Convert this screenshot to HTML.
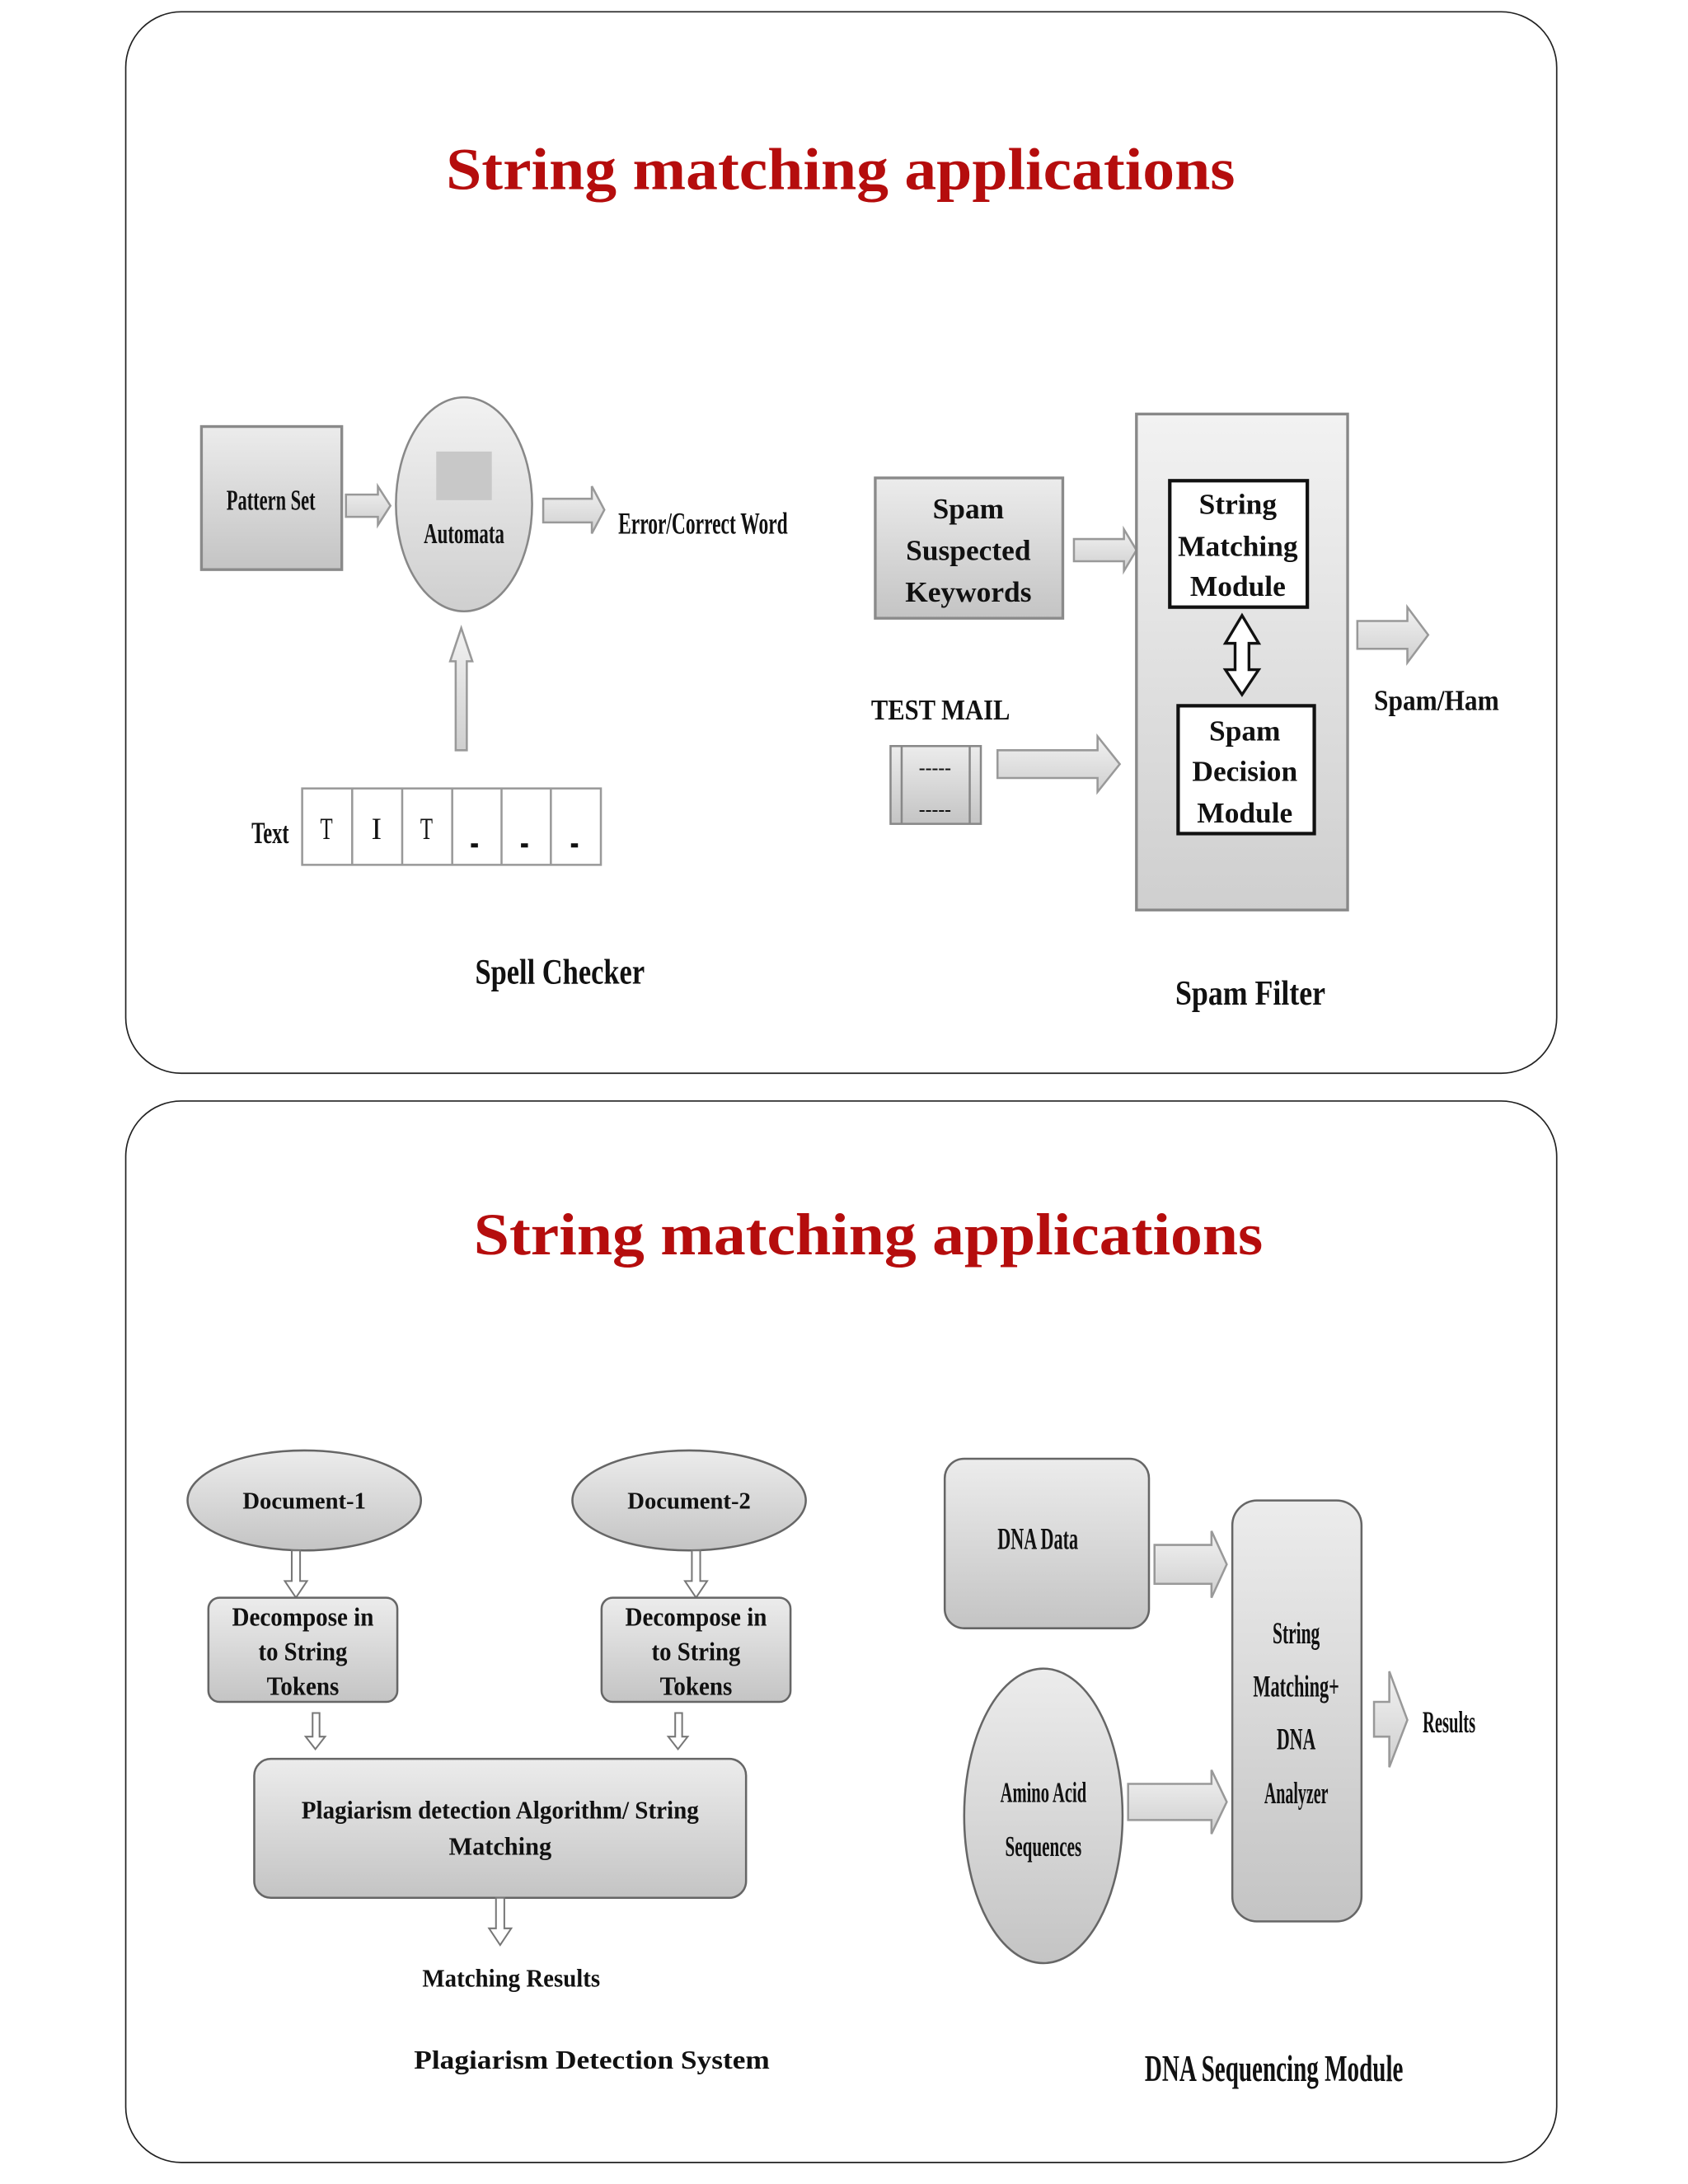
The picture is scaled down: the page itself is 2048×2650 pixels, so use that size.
<!DOCTYPE html>
<html><head><meta charset="utf-8"><style>
html,body{margin:0;padding:0;background:#fff;}
svg{display:block;}
text{font-family:"Liberation Serif",serif;fill:#111;}
.b{font-weight:bold;}
</style></head><body>
<svg width="2048" height="2650" viewBox="0 0 1215 1572" preserveAspectRatio="none" xmlns="http://www.w3.org/2000/svg">
<defs>
<linearGradient id="g" x1="0" y1="0" x2="0" y2="1"><stop offset="0" stop-color="#ececec"/><stop offset="1" stop-color="#c4c4c4"/></linearGradient>
<linearGradient id="gh" x1="0" y1="0" x2="0" y2="1"><stop offset="0" stop-color="#f2f2f2"/><stop offset="1" stop-color="#cfcfcf"/></linearGradient>
</defs>
<rect x="90.5" y="8.5" width="1030" height="764" rx="40" fill="#fff" stroke="#222" stroke-width="1"/>
<rect x="90.5" y="792.5" width="1030" height="764" rx="40" fill="#fff" stroke="#222" stroke-width="1"/>

<text x="605" y="136" font-size="43" font-weight="bold" text-anchor="middle" style="fill:#b50d0d" textLength="568" lengthAdjust="spacingAndGlyphs">String matching applications</text>
<text x="625" y="903" font-size="43" font-weight="bold" text-anchor="middle" style="fill:#b50d0d" textLength="568" lengthAdjust="spacingAndGlyphs">String matching applications</text>

<!-- Spell checker -->
<rect x="145" y="307" width="101" height="103" fill="url(#g)" stroke="#8a8a8a" stroke-width="2"/>
<text class="b" x="195" y="367" font-size="21" text-anchor="middle" textLength="64" lengthAdjust="spacingAndGlyphs">Pattern Set</text>
<path d="M249,356 L272,356 L272,350 L281,364 L272,378 L272,372 L249,372Z" fill="url(#gh)" stroke="#999" stroke-width="1.5"/>
<ellipse cx="334" cy="363" rx="49" ry="77" fill="url(#gh)" stroke="#888" stroke-width="1.5"/>
<rect x="314" y="325" width="40" height="35" fill="#c8c8c8"/>
<text class="b" x="334" y="391" font-size="21" text-anchor="middle" textLength="58" lengthAdjust="spacingAndGlyphs">Automata</text>
<path d="M391,359 L426,359 L426,350 L435,367 L426,384 L426,376 L391,376Z" fill="url(#gh)" stroke="#999" stroke-width="1.5"/>
<text class="b" x="445" y="384" font-size="22" textLength="122" lengthAdjust="spacingAndGlyphs">Error/Correct Word</text>
<path d="M328,540 L328,476 L324,476 L332,452 L340,476 L336,476 L336,540Z" fill="url(#gh)" stroke="#999" stroke-width="1.5"/>
<text class="b" x="181" y="607" font-size="22" textLength="27" lengthAdjust="spacingAndGlyphs">Text</text>
<rect x="217.5" y="567.5" width="215" height="55" fill="#fff" stroke="#999" stroke-width="1.5"/>
<g stroke="#999" stroke-width="1.5"><line x1="253.5" y1="567" x2="253.5" y2="622"/><line x1="289.5" y1="567" x2="289.5" y2="622"/><line x1="325.5" y1="567" x2="325.5" y2="622"/><line x1="361" y1="567" x2="361" y2="622"/><line x1="396.5" y1="567" x2="396.5" y2="622"/></g>
<text x="235" y="604" font-size="22" text-anchor="middle" textLength="9" lengthAdjust="spacingAndGlyphs">T</text>
<text x="271" y="604" font-size="22" text-anchor="middle">I</text>
<text x="307" y="604" font-size="22" text-anchor="middle" textLength="9" lengthAdjust="spacingAndGlyphs">T</text>
<g fill="#111"><rect x="339" y="607" width="5" height="3"/><rect x="375" y="607" width="5" height="3"/><rect x="411" y="607" width="5" height="3"/></g>
<text class="b" x="403" y="708" font-size="26" text-anchor="middle" textLength="122" lengthAdjust="spacingAndGlyphs">Spell Checker</text>

<!-- Spam filter -->
<rect x="630" y="344" width="135" height="101" fill="url(#g)" stroke="#8a8a8a" stroke-width="2"/>
<text x="697" y="373" font-size="21" font-weight="bold" text-anchor="middle">Spam</text>
<text x="697" y="403" font-size="21" font-weight="bold" text-anchor="middle">Suspected</text>
<text x="697" y="433" font-size="21" font-weight="bold" text-anchor="middle">Keywords</text>
<path d="M773,388 L809,388 L809,381 L818,396 L809,411 L809,404 L773,404Z" fill="url(#gh)" stroke="#999" stroke-width="1.5"/>
<rect x="818" y="298" width="152" height="357" fill="url(#gh)" stroke="#888" stroke-width="2"/>
<rect x="842" y="346" width="99" height="91" fill="#fff" stroke="#111" stroke-width="2.5"/>
<text x="891" y="370" font-size="21" font-weight="bold" text-anchor="middle">String</text>
<text x="891" y="400" font-size="21" font-weight="bold" text-anchor="middle">Matching</text>
<text x="891" y="429" font-size="21" font-weight="bold" text-anchor="middle">Module</text>
<path d="M894,443 L906,463 L899,463 L899,482 L906,482 L894,500 L882,482 L889,482 L889,463 L882,463Z" fill="#fff" stroke="#111" stroke-width="2"/>
<rect x="848" y="508" width="98" height="92" fill="#fff" stroke="#111" stroke-width="2.5"/>
<text x="896" y="533" font-size="21" font-weight="bold" text-anchor="middle">Spam</text>
<text x="896" y="562" font-size="21" font-weight="bold" text-anchor="middle">Decision</text>
<text x="896" y="592" font-size="21" font-weight="bold" text-anchor="middle">Module</text>
<path d="M977,447 L1013,447 L1013,437 L1028,457 L1013,477 L1013,467 L977,467Z" fill="url(#gh)" stroke="#999" stroke-width="1.5"/>
<text x="1034" y="511" font-size="21" font-weight="bold" text-anchor="middle" textLength="90" lengthAdjust="spacingAndGlyphs">Spam/Ham</text>
<text x="677" y="518" font-size="21" font-weight="bold" text-anchor="middle" textLength="100" lengthAdjust="spacingAndGlyphs">TEST MAIL</text>
<rect x="641" y="537" width="65" height="56" fill="url(#g)" stroke="#888" stroke-width="1.5"/>
<line x1="649" y1="537" x2="649" y2="593" stroke="#888" stroke-width="1.5"/>
<line x1="698" y1="537" x2="698" y2="593" stroke="#888" stroke-width="1.5"/>
<text x="673" y="557" font-size="14" font-weight="bold" text-anchor="middle">-----</text>
<text x="673" y="587" font-size="14" font-weight="bold" text-anchor="middle">-----</text>
<path d="M718,540 L790,540 L790,530 L806,550 L790,570 L790,560 L718,560Z" fill="url(#gh)" stroke="#999" stroke-width="1.5"/>
<text class="b" x="900" y="723" font-size="25" text-anchor="middle" textLength="108" lengthAdjust="spacingAndGlyphs">Spam Filter</text>

<!-- Plagiarism -->
<ellipse cx="219" cy="1080" rx="84" ry="36" fill="url(#g)" stroke="#666" stroke-width="1.5"/>
<text x="219" y="1086" font-size="17" font-weight="bold" text-anchor="middle">Document-1</text>
<ellipse cx="496" cy="1080" rx="84" ry="36" fill="url(#g)" stroke="#666" stroke-width="1.5"/>
<text x="496" y="1086" font-size="17" font-weight="bold" text-anchor="middle">Document-2</text>
<path d="M210,1116 L216,1116 L216,1138 L221,1138 L213,1150 L205,1138 L210,1138Z" fill="#fff" stroke="#777" stroke-width="1.2"/>
<path d="M498,1116 L504,1116 L504,1138 L509,1138 L501,1150 L493,1138 L498,1138Z" fill="#fff" stroke="#777" stroke-width="1.2"/>
<rect x="150" y="1150" width="136" height="75" rx="8" fill="url(#g)" stroke="#666" stroke-width="1.5"/>
<text x="218" y="1170" font-size="19" font-weight="bold" text-anchor="middle" textLength="102" lengthAdjust="spacingAndGlyphs">Decompose in</text>
<text x="218" y="1195" font-size="19" font-weight="bold" text-anchor="middle" textLength="64" lengthAdjust="spacingAndGlyphs">to String</text>
<text x="218" y="1220" font-size="19" font-weight="bold" text-anchor="middle" textLength="52" lengthAdjust="spacingAndGlyphs">Tokens</text>
<rect x="433" y="1150" width="136" height="75" rx="8" fill="url(#g)" stroke="#666" stroke-width="1.5"/>
<text x="501" y="1170" font-size="19" font-weight="bold" text-anchor="middle" textLength="102" lengthAdjust="spacingAndGlyphs">Decompose in</text>
<text x="501" y="1195" font-size="19" font-weight="bold" text-anchor="middle" textLength="64" lengthAdjust="spacingAndGlyphs">to String</text>
<text x="501" y="1220" font-size="19" font-weight="bold" text-anchor="middle" textLength="52" lengthAdjust="spacingAndGlyphs">Tokens</text>
<path d="M225,1233 L230,1233 L230,1250 L234,1250 L227,1259 L220,1250 L225,1250Z" fill="#fff" stroke="#777" stroke-width="1.2"/>
<path d="M486,1233 L491,1233 L491,1250 L495,1250 L488,1259 L481,1250 L486,1250Z" fill="#fff" stroke="#777" stroke-width="1.2"/>
<rect x="183" y="1266" width="354" height="100" rx="12" fill="url(#g)" stroke="#666" stroke-width="1.5"/>
<text x="360" y="1309" font-size="18" font-weight="bold" text-anchor="middle" textLength="286" lengthAdjust="spacingAndGlyphs">Plagiarism detection Algorithm/ String</text>
<text x="360" y="1335" font-size="18" font-weight="bold" text-anchor="middle">Matching</text>
<path d="M357,1366 L363,1366 L363,1388 L368,1388 L360,1400 L352,1388 L357,1388Z" fill="#fff" stroke="#777" stroke-width="1.2"/>
<text x="368" y="1430" font-size="18" font-weight="bold" text-anchor="middle" textLength="128" lengthAdjust="spacingAndGlyphs">Matching Results</text>
<text x="426" y="1489" font-size="19" font-weight="bold" text-anchor="middle" textLength="256" lengthAdjust="spacingAndGlyphs">Plagiarism Detection System</text>

<!-- DNA -->
<rect x="680" y="1050" width="147" height="122" rx="14" fill="url(#g)" stroke="#666" stroke-width="1.5"/>
<text class="b" x="747" y="1115" font-size="22" text-anchor="middle" textLength="58" lengthAdjust="spacingAndGlyphs">DNA Data</text>
<ellipse cx="751" cy="1307" rx="57" ry="106" fill="url(#g)" stroke="#666" stroke-width="1.5"/>
<text class="b" x="751" y="1297" font-size="21" text-anchor="middle" textLength="62" lengthAdjust="spacingAndGlyphs">Amino Acid</text>
<text class="b" x="751" y="1336" font-size="21" text-anchor="middle" textLength="55" lengthAdjust="spacingAndGlyphs">Sequences</text>
<path d="M831,1112 L872,1112 L872,1102 L883,1126 L872,1150 L872,1140 L831,1140Z" fill="url(#gh)" stroke="#999" stroke-width="1.5"/>
<path d="M812,1284 L872,1284 L872,1274 L883,1297 L872,1320 L872,1310 L812,1310Z" fill="url(#gh)" stroke="#999" stroke-width="1.5"/>
<rect x="887" y="1080" width="93" height="303" rx="18" fill="url(#g)" stroke="#666" stroke-width="1.5"/>
<text class="b" x="933" y="1183" font-size="22" text-anchor="middle" textLength="34" lengthAdjust="spacingAndGlyphs">String</text>
<text class="b" x="933" y="1221" font-size="22" text-anchor="middle" textLength="62" lengthAdjust="spacingAndGlyphs">Matching+</text>
<text class="b" x="933" y="1259" font-size="22" text-anchor="middle" textLength="28" lengthAdjust="spacingAndGlyphs">DNA</text>
<text class="b" x="933" y="1298" font-size="22" text-anchor="middle" textLength="46" lengthAdjust="spacingAndGlyphs">Analyzer</text>
<path d="M989,1225 L1000,1225 L1000,1203 L1013,1238 L1000,1272 L1000,1250 L989,1250Z" fill="url(#gh)" stroke="#999" stroke-width="1.5"/>
<text class="b" x="1043" y="1247" font-size="22" text-anchor="middle" textLength="38" lengthAdjust="spacingAndGlyphs">Results</text>
<text class="b" x="917" y="1498" font-size="27" text-anchor="middle" textLength="186" lengthAdjust="spacingAndGlyphs">DNA Sequencing Module</text>
</svg>
</body></html>
